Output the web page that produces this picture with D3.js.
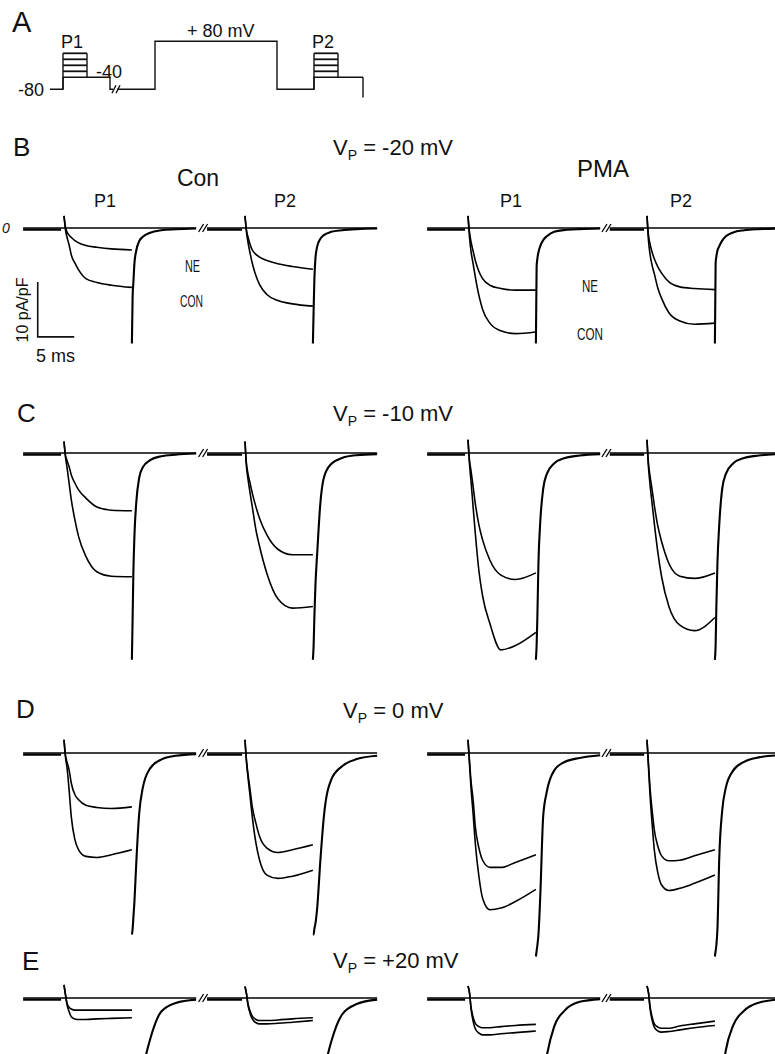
<!DOCTYPE html>
<html>
<head>
<meta charset="utf-8">
<script src="https://cdn.jsdelivr.net/npm/d3@7"></script>
<style>
  body { margin: 0; background: #fff; }
  text { font-family: "Liberation Sans", Arial, sans-serif; fill: #111; }
</style>
</head>
<body>
<svg id="fig"></svg>
<script>
// ---- data -------------------------------------------------------------
// sample times (ms from pulse onset) for activation, and (ms from pulse end) for tails
const actTimes  = [0, 0.2, 0.4, 0.7, 1, 1.5, 2, 3, 4.5, 6.5, 9.3];
const tailTimes = [0, 0.1, 0.2, 0.35, 0.6, 1, 1.5, 2.5, 4, 6, 8.8];
const pulseLen = 9.3;          // ms
const holdCurrent = -0.3;      // pA/pF before each pulse
const preStart = [-5.6, -5.2, -5.6, -5.1];   // ms, start of the trace before Con P1, Con P2, PMA P1, PMA P2

// every panel: rows = Con P1, Con P2, PMA P1, PMA P2 ; values in pA/pF
const neB = [
  [2.2, 0.2, -0.7, -1.3, -1.7, -2.3, -2.7, -3.2, -3.5, -3.8, -4.0],
  [2.2, -0.4, -1.6, -3.0, -4.0, -4.8, -5.3, -5.9, -6.5, -7.0, -7.5],
  [2.2, -0.7, -2.4, -4.2, -5.9, -7.9, -9.2, -10.4, -11.0, -11.3, -11.3],
  [2.2, -1.3, -2.8, -4.4, -5.6, -7.1, -8.2, -9.8, -10.7, -11.0, -11.2]
];
const conB = [
  [2.2, -0.3, -1.6, -3.1, -4.9, -6.4, -7.6, -9.2, -9.9, -10.4, -10.8],
  [2.2, -0.7, -2.5, -4.6, -6.4, -8.7, -10.3, -12.1, -13.2, -13.8, -14.2],
  [2.2, -1.6, -4.1, -6.5, -8.9, -12.3, -14.8, -17.3, -18.7, -19.2, -18.9],
  [2.2, -2.2, -4.6, -6.8, -8.3, -11.0, -12.8, -15.4, -16.9, -17.5, -17.3]
];
const tailB = [
  [-21, -12.5, -10, -6.4, -4.1, -2.4, -1.6, -0.85, -0.42, -0.24, -0.1],
  [-21, -15, -9.5, -5.5, -3.3, -2.0, -1.3, -0.7, -0.4, -0.2, -0.1],
  [-21, -7, -5.6, -4.4, -3.3, -2.2, -1.5, -0.7, -0.35, -0.2, -0.1],
  [-21, -6.4, -5.2, -4.1, -3.3, -2.3, -1.5, -0.8, -0.4, -0.2, -0.1]
];

const neC = [
  [2.1, -0.4, -1.3, -2.5, -4.0, -5.5, -6.7, -8.2, -9.8, -10.4, -10.5],
  [2.1, -1.9, -3.7, -5.5, -7.3, -9.8, -11.9, -14.9, -17.5, -18.5, -18.5],
  [2.4, -1.3, -3.1, -6.1, -9.2, -13.1, -15.8, -19.5, -22.2, -23.0, -21.8],
  [2.4, -1.9, -4.0, -6.7, -9.5, -13.4, -16.1, -20.1, -22.4, -22.8, -21.8]
];
const conC = [
  [2.1, -0.7, -2.5, -5.5, -8.5, -12.2, -15.2, -18.8, -21.6, -22.4, -22.5],
  [2.1, -2.5, -4.6, -7.3, -9.8, -14.0, -17.0, -21.9, -26.5, -28.2, -27.9],
  [2.4, -1.9, -4.9, -9.8, -14.6, -21.5, -26.0, -31.0, -35.8, -35.0, -32.6],
  [2.4, -2.5, -5.5, -9.2, -12.8, -18.2, -22.5, -27.9, -31.3, -32.3, -29.9]
];
const tailC = [
  [-37.6, -30, -22, -15, -9, -4.5, -2.6, -1.3, -0.6, -0.3, -0.1],
  [-37.6, -35, -30, -24, -18, -9.5, -4.5, -2.0, -0.9, -0.4, -0.2],
  [-37.6, -35, -30, -20, -12.5, -6.5, -3.8, -1.9, -0.9, -0.45, -0.2],
  [-37.6, -35, -28, -20, -13, -6.5, -3.8, -1.9, -0.9, -0.45, -0.2]
];

const neD = [
  [2.4, -0.4, -1.6, -3.1, -5.5, -7.6, -8.5, -9.5, -9.9, -10.1, -9.8],
  [2.4, -1.3, -3.7, -6.7, -9.8, -12.8, -15.2, -17.3, -18.1, -17.6, -16.7],
  [2.4, -1.3, -4.9, -8.5, -13.4, -17.3, -19.5, -20.8, -20.8, -19.9, -18.5],
  [2.4, -1.9, -6.1, -10.4, -14.0, -17.0, -18.7, -19.6, -19.5, -18.7, -17.6]
];
const conD = [
  [2.4, -0.7, -2.5, -6.7, -11.6, -15.8, -17.6, -18.8, -19.0, -18.5, -17.6],
  [2.4, -1.6, -4.3, -7.9, -11.6, -16.4, -19.5, -22.2, -22.8, -22.4, -21.3],
  [2.4, -1.9, -6.1, -11.0, -16.4, -22.5, -26.4, -28.5, -28.2, -27.0, -24.8],
  [2.4, -2.5, -7.3, -12.8, -17.6, -21.9, -24.0, -25.0, -24.6, -23.7, -22.2]
];
const tailD = [
  [-33, -32, -30, -27, -20, -11, -6.3, -2.8, -1.2, -0.5, -0.2],
  [-33, -33, -32, -31, -28, -20, -11.6, -4.9, -2.4, -1.1, -0.5],
  [-37, -36, -35, -33, -26, -11.5, -7, -3.2, -1.6, -0.9, -0.4],
  [-37, -36, -35, -32, -19, -10.5, -6.3, -3.2, -1.6, -0.8, -0.4]
];

const neE = [
  [2.4, 0.6, -0.9, -1.7, -2.0, -2.2, -2.2, -2.2, -2.2, -2.2, -2.2],
  [2.1, 0.8, -1.0, -2.4, -3.3, -3.9, -4.1, -4.1, -4.0, -3.8, -3.6],
  [2.2, 1.0, -1.5, -3.5, -4.6, -5.2, -5.4, -5.4, -5.2, -5.0, -4.8],
  [2.2, 1.0, -1.4, -3.5, -4.7, -5.3, -5.5, -5.5, -5.1, -4.7, -4.2]
];
const conE = [
  [2.4, 0.6, -1.1, -2.5, -3.4, -3.8, -3.9, -3.9, -3.8, -3.7, -3.6],
  [2.1, 0.8, -1.2, -2.8, -3.8, -4.5, -4.7, -4.7, -4.6, -4.4, -4.1],
  [2.2, 1.0, -1.8, -4.2, -5.6, -6.4, -6.7, -6.7, -6.5, -6.3, -6.0],
  [2.2, 1.0, -1.7, -4.0, -5.3, -6.0, -6.2, -6.1, -5.8, -5.4, -5.0]
];
const tailE = [
  [-30, -28, -26, -24, -21, -17, -13, -7.5, -2.5, -0.9, -0.3],
  [-30, -28, -26, -24, -21, -17, -13.5, -8, -3, -1.1, -0.3],
  [-30, -28, -26, -23, -20, -15, -10.5, -5.2, -2.2, -0.7, -0.2],
  [-30, -28, -25, -22, -19, -14, -9.5, -5.0, -2.3, -0.85, -0.25]
];

const panelIds = ['B', 'C', 'D', 'E'];
const panelVp  = ['-20', '-10', '0', '+20'];

// voltage protocol (panel A): step boundaries and levels (mV)
const protoT = [0, 13, 37, 60, 105, 227, 264, 289, 313];
const protoV = [-80, -40, -40, -80, 80, -80, -40, -40, -40];
const testStarts = [13, 264];
const testLen = 24;
const testLevels = [-20, 0, 20, 40];

// ---- layout -----------------------------------------------------------
const W = 775, H = 1054;
const rowZero = [228, 453, 753, 998];     // y of 0 pA/pF per row
const pulseX0 = [64, 245, 468, 647];      // x of each pulse onset
const pxPerMs = 7.3, pxPerUnit = 5.5;

const svg = d3.select('#fig').attr('width', W).attr('height', H);

// ---- panel A : protocol ----------------------------------------------
const px = d3.scaleLinear().domain([0, 313]).range([50, 363]);
const py = d3.scaleLinear().domain([-80, 80]).range([89.3, 41.3]);
const gA = svg.append('g').attr('fill', 'none').attr('stroke', '#111').attr('stroke-width', 1.4);

gA.append('path')
  .attr('d', d3.line().x(d => px(d[0])).y(d => py(d[1])).curve(d3.curveStepAfter)(protoT.map((t, i) => [t, protoV[i]])));
gA.append('line').attr('x1', px(313)).attr('x2', px(313)).attr('y1', py(-40)).attr('y2', py(-107));
testStarts.forEach(t0 => {
  gA.append('line').attr('x1', px(t0)).attr('x2', px(t0)).attr('y1', py(-80)).attr('y2', py(40));
  gA.append('line').attr('x1', px(t0 + testLen)).attr('x2', px(t0 + testLen)).attr('y1', py(40)).attr('y2', py(-40));
  testLevels.forEach(v => {
    gA.append('line').attr('x1', px(t0)).attr('x2', px(t0 + testLen))
      .attr('y1', py(v)).attr('y2', py(v)).attr('stroke-width', 1.8);
  });
});
// break on the holding line
gA.append('line').attr('x1', px(63)).attr('x2', px(67)).attr('y1', py(-80)).attr('y2', py(-80))
  .attr('stroke', '#fff').attr('stroke-width', 3);
[62, 66].forEach(t => {
  gA.append('line').attr('x1', px(t)).attr('x2', px(t) + 4).attr('y1', py(-80) + 4).attr('y2', py(-80) - 4);
});

svg.append('text').attr('x', 12).attr('y', 32).attr('font-size', 29).text('A');
svg.append('text').attr('x', 61).attr('y', 48).attr('font-size', 18).text('P1');
svg.append('text').attr('x', 312).attr('y', 48).attr('font-size', 18).text('P2');
svg.append('text').attr('x', 96).attr('y', 78).attr('font-size', 18).text('-40');
svg.append('text').attr('x', 18).attr('y', 96).attr('font-size', 18).text('-80');
svg.append('text').attr('x', 187).attr('y', 37).attr('font-size', 18).text('+ 80 mV');

// ---- current panels ---------------------------------------------------
const dataNE = [neB, neC, neD, neE];
const dataCON = [conB, conC, conD, conE];
const dataTail = [tailB, tailC, tailD, tailE];

const letterPos = [[13, 156], [17, 422], [16, 718], [22, 970]];
const vpPos = [[333, 155], [333, 421], [343, 718], [333, 968]];

panelIds.forEach((id, r) => {
  const g = svg.append('g').attr('fill', 'none').attr('stroke', '#000');
  const y = d3.scaleLinear().domain([0, -10]).range([rowZero[r], rowZero[r] + 10 * pxPerUnit]);

  pulseX0.forEach((x0, k) => {
    const x = d3.scaleLinear().domain([0, 5]).range([x0, x0 + 5 * pxPerMs]);
    const line = d3.line().x(d => x(d[0])).y(d => y(d[1])).curve(d3.curveMonotoneX);

    // zero reference line
    g.append('line').attr('x1', x(preStart[k])).attr('x2', Math.min(W, x(pulseLen + tailTimes[tailTimes.length - 1])))
      .attr('y1', y(0)).attr('y2', y(0)).attr('stroke-width', 1.3);
    // holding current before the pulse
    g.append('line').attr('x1', x(preStart[k])).attr('x2', x(-0.4))
      .attr('y1', y(holdCurrent)).attr('y2', y(holdCurrent)).attr('stroke-width', 2.2);

    [dataNE[r][k], dataCON[r][k]].forEach(vals => {
      g.append('path').attr('stroke-width', 1.6)
        .attr('d', line(actTimes.map((t, i) => [t, vals[i]])));
    });
    g.append('path').attr('stroke-width', 2.1)
      .attr('d', line(tailTimes.map((t, i) => [pulseLen + t, dataTail[r][k][i]])));

    // break marks between P1 and P2 sweeps
    if (k === 0 || k === 2) {
      const xb = (x(pulseLen + tailTimes[tailTimes.length - 1]) + pulseX0[k + 1] + preStart[k + 1] * pxPerMs) / 2;
      [-3, 1].forEach(dx => {
        g.append('line').attr('x1', xb + dx).attr('x2', xb + dx + 5)
          .attr('y1', y(0) + 4).attr('y2', y(0) - 4).attr('stroke-width', 1.3);
      });
    }
  });

  svg.append('text').attr('x', letterPos[r][0]).attr('y', letterPos[r][1]).attr('font-size', 26).text(id);
  const t = svg.append('text').attr('x', vpPos[r][0]).attr('y', vpPos[r][1]).attr('font-size', 22);
  t.append('tspan').text('V');
  t.append('tspan').attr('dy', 5).attr('font-size', 14).text('P');
  t.append('tspan').attr('dy', -5).text(' = ' + panelVp[r] + ' mV');
});

// ---- labels of panel B ------------------------------------------------
svg.append('text').attr('x', 198).attr('y', 186).attr('font-size', 23).attr('text-anchor', 'middle').text('Con');
svg.append('text').attr('x', 603).attr('y', 177).attr('font-size', 24).attr('text-anchor', 'middle').text('PMA');
[[105, 'P1'], [285, 'P2'], [511, 'P1'], [681, 'P2']].forEach(d => {
  svg.append('text').attr('x', d[0]).attr('y', 207).attr('font-size', 18).attr('text-anchor', 'middle').text(d[1]);
});
[[185, 272, 15, 'NE'], [180, 307, 23, 'CON'], [582, 292, 16, 'NE'], [577, 340, 26, 'CON']].forEach(d => {
  svg.append('text').attr('x', d[0]).attr('y', d[1]).attr('font-size', 17)
    .attr('textLength', d[2]).attr('lengthAdjust', 'spacingAndGlyphs').text(d[3]);
});
svg.append('text').attr('x', 2).attr('y', 233).attr('font-size', 14).attr('font-style', 'italic').text('0');

// scale bar: 10 pA/pF, 5 ms
const sx = d3.scaleLinear().domain([0, 5]).range([pulseX0[0], pulseX0[0] + 5 * pxPerMs]);
const sy = d3.scaleLinear().domain([0, -10]).range([rowZero[0], rowZero[0] + 10 * pxPerUnit]);
const barT = -3.6, barI = -19.8;
svg.append('path').attr('fill', 'none').attr('stroke', '#111').attr('stroke-width', 1.6)
  .attr('d', `M${sx(barT)},${sy(barI + 10)}V${sy(barI)}H${sx(barT + 5)}`);
svg.append('text').attr('x', 36).attr('y', 362).attr('font-size', 18).text('5 ms');
svg.append('text').attr('transform', 'translate(28,310) rotate(-90)').attr('font-size', 16)
  .attr('text-anchor', 'middle').text('10 pA/pF');
</script>
</body>
</html>
